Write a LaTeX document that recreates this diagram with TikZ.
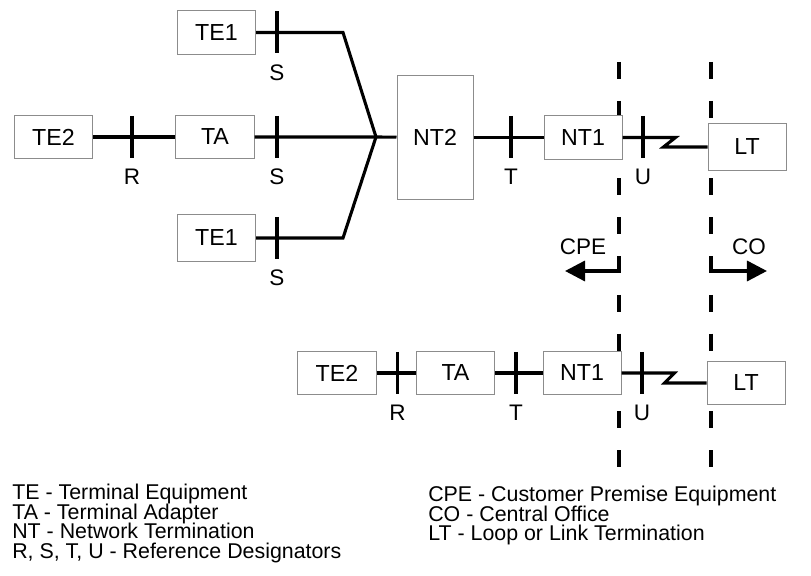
\documentclass[tikz,border=0pt]{standalone}
\usepackage{fontspec}
\setmainfont{Liberation Sans}
\usepackage{tikz}
\usetikzlibrary{arrows.meta}

\newcommand{\keyfont}{\fontsize{15.2}{13.9}\selectfont\lineskiplimit=-20pt\relax}

\begin{document}
\begin{tikzpicture}[
    x=0.025cm, y=-0.025cm,
    unit/.style={draw=black!45, line width=0.7pt, fill=white, minimum width=1.95cm, minimum height=1.075cm, inner sep=0pt, font=\fontsize{16.5}{18}\selectfont},
    wire/.style={line width=2.2pt},
    tickmark/.style={line width=2.2pt},
    lbl/.style={font=\fontsize{16}{18}\selectfont, inner sep=0pt},
    boundary/.style={line width=2.4pt, dash pattern=on 12pt off 15.6pt},
    sidearrow/.style={line width=2.4pt, -{Triangle[length=0.5cm, width=0.5cm]}},
    legend/.style={font=\keyfont, align=left, inner sep=0pt, anchor=north west},
]
\useasboundingbox (0,0) rectangle (811,576);

% ---- Limites CPE / CO ----
\coordinate (cpeTop) at (619,62);
\coordinate (cpeBot) at (619,469);
\coordinate (coTop) at (711,62);
\coordinate (coBot) at (711,469);
\draw[boundary] (cpeTop) -- (cpeBot);
\draw[boundary] (coTop) -- (coBot);

\node[lbl] (cpe) at (583,247) {CPE};
\node[lbl] (co) at (749,247) {CO};
\draw[sidearrow] (619,271) -- (565,271);
\draw[sidearrow] (711,271) -- (767,271);

% ---- Configuration avec NT2 ----
\node[unit] (te1a) at (216.5,32.5) {TE1};
\node[unit] (te2a) at (53.5,137) {TE2};
\node[unit] (taa) at (215,137) {TA};
\node[unit, minimum height=1.15cm] (te1b) at (216.5,238) {TE1};
\node[unit, minimum width=1.9cm, minimum height=3.075cm] (nt2) at (435,137.5) {NT2};
\node[unit] (nt1a) at (583,137.5) {NT1};
\node[unit, minimum height=1.15cm] (lta) at (747,147) {LT};
\coordinate (jn) at (376,137);

\draw[wire] (te2a) -- (taa);
\draw[wire] (te1a.east) -- (343,32.5) -- (jn);
\draw[wire] (taa) -- (jn) -- (nt2);
\draw[wire] (te1b.east) -- (343,238) -- (jn);
\draw[wire] (nt2) -- (nt1a);
\draw[wire] (nt1a.east) -- ++(53,0) -- ++(-12,9.5) -- (lta.west);

% ---- Configuration sans NT2 ----
\node[unit] (te2b) at (337,373) {TE2};
\node[unit] (tab) at (455.5,373) {TA};
\node[unit] (nt1b) at (582,373) {NT1};
\node[unit] (ltb) at (746,383) {LT};

\draw[wire] (te2b) -- (tab);
\draw[wire] (tab) -- (nt1b);
\draw[wire] (nt1b.east) -- ++(53,0) -- ++(-10,10) -- (ltb.west);

% ---- Points de reference ----
\foreach \nm/\px/\py/\ref in {rA/132/137/R, sA/277/32.5/S, sB/277/137/S, sC/277/238/S,
                              tA/511/137/T, uA/643/137/U,
                              rB/397.5/373/R, tB/516/373/T, uB/642/373/U} {
    \draw[tickmark] (\px,\py-21) -- (\px,\py+21);
    \node[lbl] (\nm) at (\px,\py+40) {\ref};
}

% ---- Legende ----
\node[legend] (keyL) at (12,484) {TE - Terminal Equipment\\ TA - Terminal Adapter\\ NT - Network Termination\\ R, S, T, U - Reference Designators};
\node[legend] (keyR) at (428,486) {CPE - Customer Premise Equipment\\ CO - Central Office\\ LT - Loop or Link Termination};

\end{tikzpicture}
\end{document}
